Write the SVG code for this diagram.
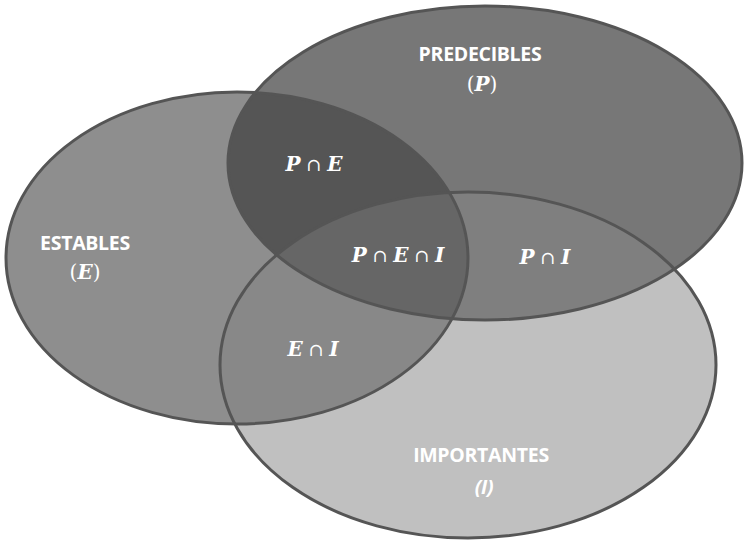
<svg xmlns="http://www.w3.org/2000/svg" width="745" height="542" viewBox="0 0 745 542">
<style>
.lab{font-family:"Open Sans","Liberation Sans",sans-serif;font-weight:bold;font-size:19.5px;fill:#fff;text-anchor:middle;letter-spacing:-0.3px}
.math{font-family:"DejaVu Serif","Liberation Serif",serif;font-size:20px;fill:#fff;text-anchor:middle}
.v{font-style:italic;font-weight:bold}
.op{font-weight:normal;font-size:18px}
.edge{fill:none;stroke:#555;stroke-width:3}
</style>
<defs>
<ellipse id="eE" cx="237" cy="258" rx="231" ry="166"/>
<ellipse id="eP" cx="485" cy="163" rx="257" ry="157"/>
<ellipse id="eI" cx="468" cy="365" rx="248" ry="173"/>
<clipPath id="cE"><use href="#eE"/></clipPath>
<clipPath id="cP"><use href="#eP"/></clipPath>
</defs>
<rect width="745" height="542" fill="#fff"/>
<g id="fills">
<use href="#eE" fill="#8e8e8e"/>
<use href="#eP" fill="#777"/>
<use href="#eI" fill="#c0c0c0"/>
<use href="#eP" fill="#555" clip-path="url(#cE)"/>
<use href="#eI" fill="#888" clip-path="url(#cE)"/>
<use href="#eI" fill="#7f7f7f" clip-path="url(#cP)"/>
<g clip-path="url(#cP)"><use href="#eI" fill="#666" clip-path="url(#cE)"/></g>
</g>
<g id="estables">
<use href="#eE" class="edge"/>
<text class="lab" x="85" y="250">ESTABLES</text>
<text class="math" x="85" y="279">(<tspan class="v">E</tspan>)</text>
</g>
<g id="predecibles">
<use href="#eP" class="edge"/>
<text class="lab" x="480" y="61">PREDECIBLES</text>
<text class="math" x="482" y="91">(<tspan class="v">P</tspan>)</text>
</g>
<g id="importantes">
<use href="#eI" class="edge"/>
<text class="lab" x="481" y="462">IMPORTANTES</text>
<text class="lab" x="484" y="494" font-style="italic">(I)</text>
</g>
<g id="intersections">
<text class="math" x="314" y="171"><tspan class="v">P</tspan><tspan class="op"> ∩ </tspan><tspan class="v">E</tspan></text>
<text class="math" x="398" y="262"><tspan class="v">P</tspan><tspan class="op"> ∩ </tspan><tspan class="v">E</tspan><tspan class="op"> ∩ </tspan><tspan class="v">I</tspan></text>
<text class="math" x="545" y="264"><tspan class="v">P</tspan><tspan class="op"> ∩ </tspan><tspan class="v">I</tspan></text>
<text class="math" x="313" y="356"><tspan class="v">E</tspan><tspan class="op"> ∩ </tspan><tspan class="v">I</tspan></text>
</g>
<g id="connectors"/>
</svg>
